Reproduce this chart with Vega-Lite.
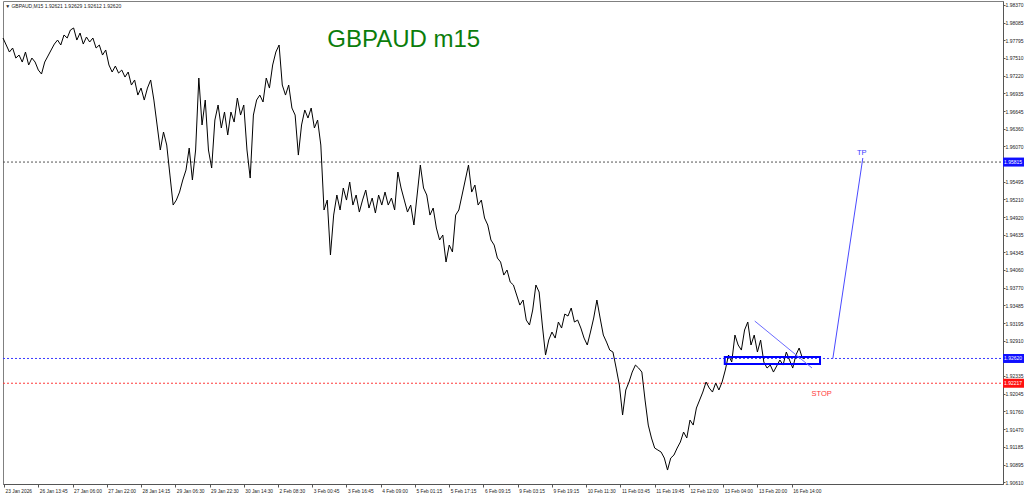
{
  "$schema": "https://vega.github.io/schema/vega-lite/v6.json",
  "width": 1000,
  "height": 483,
  "autosize": {"type": "none"},
  "padding": {"left": 3, "top": 1, "right": 21, "bottom": 13},
  "background": "white",
  "config": {"view": {"stroke": "#808080", "strokeWidth": 1}, "font": "Liberation Sans"},
  "resolve": {"scale": {"color": "independent"}},
  "datasets": {
    "price": [
      {"b":0,"p":1.97833},{"b":6,"p":1.97719},{"b":12,"p":1.97605},{"b":18,"p":1.97670},{"b":24,"p":1.97507},{"b":30,"p":1.97556},{"b":36,"p":1.97442},{"b":42,"p":1.97605},{"b":48,"p":1.97394},{"b":54,"p":1.97507},
      {"b":60,"p":1.97442},{"b":66,"p":1.97312},{"b":72,"p":1.97247},{"b":78,"p":1.97442},{"b":84,"p":1.97540},{"b":90,"p":1.97638},{"b":96,"p":1.97735},{"b":102,"p":1.97800},{"b":108,"p":1.97719},{"b":114,"p":1.97882},
      {"b":120,"p":1.97833},{"b":126,"p":1.97963},{"b":132,"p":1.97996},{"b":138,"p":1.97800},{"b":144,"p":1.97914},{"b":150,"p":1.97735},{"b":156,"p":1.97849},{"b":162,"p":1.97768},{"b":168,"p":1.97833},{"b":174,"p":1.97670},
      {"b":180,"p":1.97719},{"b":186,"p":1.97556},{"b":192,"p":1.97638},{"b":198,"p":1.97394},{"b":204,"p":1.97280},{"b":210,"p":1.97377},{"b":216,"p":1.97263},{"b":222,"p":1.97312},{"b":228,"p":1.97198},{"b":234,"p":1.97280},
      {"b":240,"p":1.97068},{"b":246,"p":1.97150},{"b":252,"p":1.96905},{"b":258,"p":1.97019},{"b":264,"p":1.96824},{"b":270,"p":1.97019},{"b":276,"p":1.97150},{"b":282,"p":1.96824},{"b":288,"p":1.96418},{"b":294,"p":1.96011},
      {"b":300,"p":1.96304},{"b":306,"p":1.96092},{"b":312,"p":1.95604},{"b":318,"p":1.95116},{"b":324,"p":1.95197},{"b":330,"p":1.95327},{"b":336,"p":1.95523},{"b":342,"p":1.95685},{"b":348,"p":1.96043},{"b":354,"p":1.95523},
      {"b":360,"p":1.96011},{"b":366,"p":1.97182},{"b":372,"p":1.96418},{"b":378,"p":1.96824},{"b":384,"p":1.96011},{"b":390,"p":1.95718},{"b":396,"p":1.96499},{"b":402,"p":1.96743},{"b":408,"p":1.96369},{"b":414,"p":1.96629},
      {"b":420,"p":1.96255},{"b":426,"p":1.96629},{"b":432,"p":1.96466},{"b":438,"p":1.96857},{"b":444,"p":1.96580},{"b":450,"p":1.96743},{"b":456,"p":1.96011},{"b":462,"p":1.95555},{"b":468,"p":1.96580},{"b":474,"p":1.96824},
      {"b":480,"p":1.96905},{"b":486,"p":1.96792},{"b":492,"p":1.97182},{"b":498,"p":1.97019},{"b":504,"p":1.97394},{"b":510,"p":1.97605},{"b":516,"p":1.97719},{"b":522,"p":1.97068},{"b":528,"p":1.96905},{"b":534,"p":1.97068},
      {"b":540,"p":1.96694},{"b":546,"p":1.96580},{"b":552,"p":1.95929},{"b":558,"p":1.96418},{"b":564,"p":1.96662},{"b":570,"p":1.96531},{"b":576,"p":1.96694},{"b":582,"p":1.96369},{"b":588,"p":1.96499},{"b":594,"p":1.96092},
      {"b":600,"p":1.95035},{"b":606,"p":1.95197},{"b":612,"p":1.94303},{"b":618,"p":1.94953},{"b":624,"p":1.95279},{"b":630,"p":1.95035},{"b":636,"p":1.95393},{"b":642,"p":1.95197},{"b":648,"p":1.95490},{"b":654,"p":1.95116},
      {"b":660,"p":1.95279},{"b":666,"p":1.95002},{"b":672,"p":1.95197},{"b":678,"p":1.95360},{"b":684,"p":1.95067},{"b":690,"p":1.95230},{"b":696,"p":1.94986},{"b":702,"p":1.95279},{"b":708,"p":1.95116},{"b":714,"p":1.95327},
      {"b":720,"p":1.95116},{"b":726,"p":1.95230},{"b":732,"p":1.95035},{"b":738,"p":1.95653},{"b":744,"p":1.95393},{"b":750,"p":1.95197},{"b":756,"p":1.95002},{"b":762,"p":1.95116},{"b":768,"p":1.94791},{"b":774,"p":1.95279},
      {"b":780,"p":1.95767},{"b":786,"p":1.95393},{"b":792,"p":1.95279},{"b":798,"p":1.94953},{"b":804,"p":1.95067},{"b":810,"p":1.94742},{"b":816,"p":1.94547},{"b":822,"p":1.94628},{"b":828,"p":1.94189},{"b":834,"p":1.94465},
      {"b":840,"p":1.94352},{"b":846,"p":1.94953},{"b":852,"p":1.95035},{"b":858,"p":1.95279},{"b":864,"p":1.95523},{"b":870,"p":1.95767},{"b":876,"p":1.95327},{"b":882,"p":1.95441},{"b":888,"p":1.95116},{"b":894,"p":1.95197},
      {"b":900,"p":1.94905},{"b":906,"p":1.94791},{"b":912,"p":1.94547},{"b":918,"p":1.94465},{"b":924,"p":1.94254},{"b":930,"p":1.94189},{"b":936,"p":1.93977},{"b":942,"p":1.94059},{"b":948,"p":1.93863},{"b":954,"p":1.93815},
      {"b":960,"p":1.93652},{"b":966,"p":1.93489},{"b":972,"p":1.93571},{"b":978,"p":1.93245},{"b":984,"p":1.93164},{"b":990,"p":1.93408},{"b":996,"p":1.93815},{"b":1002,"p":1.93701},{"b":1008,"p":1.93164},{"b":1014,"p":1.92676},
      {"b":1020,"p":1.92920},{"b":1026,"p":1.93050},{"b":1032,"p":1.92952},{"b":1038,"p":1.93213},{"b":1044,"p":1.93115},{"b":1050,"p":1.93343},{"b":1056,"p":1.93310},{"b":1062,"p":1.93441},{"b":1068,"p":1.93213},{"b":1074,"p":1.93245},
      {"b":1080,"p":1.93115},{"b":1086,"p":1.92952},{"b":1092,"p":1.92839},{"b":1098,"p":1.93050},{"b":1104,"p":1.93278},{"b":1110,"p":1.93571},{"b":1116,"p":1.93278},{"b":1122,"p":1.93001},{"b":1128,"p":1.92887},{"b":1134,"p":1.92757},
      {"b":1140,"p":1.92725},{"b":1146,"p":1.92464},{"b":1152,"p":1.92188},{"b":1158,"p":1.91700},{"b":1164,"p":1.92107},{"b":1170,"p":1.92237},{"b":1176,"p":1.92399},{"b":1182,"p":1.92513},{"b":1188,"p":1.92464},{"b":1194,"p":1.92399},
      {"b":1200,"p":1.91944},{"b":1206,"p":1.91537},{"b":1212,"p":1.91326},{"b":1218,"p":1.91163},{"b":1224,"p":1.91130},{"b":1230,"p":1.91098},{"b":1236,"p":1.91000},{"b":1242,"p":1.90805},{"b":1248,"p":1.91000},{"b":1254,"p":1.91049},
      {"b":1260,"p":1.91163},{"b":1266,"p":1.91261},{"b":1272,"p":1.91423},{"b":1278,"p":1.91326},{"b":1284,"p":1.91618},{"b":1290,"p":1.91537},{"b":1296,"p":1.91814},{"b":1302,"p":1.91944},{"b":1308,"p":1.92074},{"b":1314,"p":1.92237},
      {"b":1320,"p":1.92139},{"b":1326,"p":1.92074},{"b":1332,"p":1.92220},{"b":1338,"p":1.92107},{"b":1344,"p":1.92237},{"b":1350,"p":1.92432},{"b":1356,"p":1.92676},{"b":1362,"p":1.92562},{"b":1368,"p":1.93001},{"b":1374,"p":1.92839},
      {"b":1380,"p":1.92757},{"b":1386,"p":1.93083},{"b":1392,"p":1.93213},{"b":1398,"p":1.92839},{"b":1404,"p":1.93001},{"b":1410,"p":1.92725},{"b":1416,"p":1.92920},{"b":1422,"p":1.92562},{"b":1428,"p":1.92464},{"b":1434,"p":1.92513},
      {"b":1440,"p":1.92399},{"b":1446,"p":1.92497},{"b":1452,"p":1.92595},{"b":1458,"p":1.92513},{"b":1464,"p":1.92725},{"b":1470,"p":1.92595},{"b":1476,"p":1.92464},{"b":1482,"p":1.92676},{"b":1488,"p":1.92790},{"b":1494,"p":1.92627},
      {"b":1498,"p":1.92620}
    ],
    "levels": [
      {"b":0,"b2":1869,"p":1.95815,"lvl":"TP"},
      {"b":0,"b2":1869,"p":1.92620,"lvl":"Entry"},
      {"b":0,"b2":1869,"p":1.92217,"lvl":"Stop"}
    ],
    "tags": [
      {"b":1869,"b2":1912,"bt":1871,"p":1.95815,"tag":"TP","label":"1.95815"},
      {"b":1869,"b2":1912,"bt":1871,"p":1.92620,"tag":"Entry","label":"1.92620"},
      {"b":1869,"b2":1912,"bt":1871,"p":1.92217,"tag":"Stop","label":"1.92217"}
    ],
    "box": [{"b":1349,"b2":1527,"p":1.92643,"p2":1.92530}],
    "trend": [{"b":1405,"b2":1512,"p":1.93229,"p2":1.92465}],
    "tpline": [{"b":1551,"b2":1607,"p":1.92620,"p2":1.95881}],
    "notes": [
      {"b":1605,"p":1.95962,"label":"TP","note":"TP"},
      {"b":1530,"p":1.92041,"label":"STOP","note":"Stop"}
    ],
    "title": [{"b":749,"p":1.97800,"label":"GBPAUD m15"}],
    "header": [{"b":4,"p":1.98353,"label":"▼ GBPAUD,M15  1.92621 1.92629 1.92612 1.92620"}]
  },
  "encoding": {
    "x": {
      "field": "b", "type": "quantitative",
      "scale": {"domain": [0, 1869], "nice": false, "zero": false},
      "axis": {
        "title": null, "grid": false,
        "values": [2,66,130,194,258,322,386,450,514,578,642,706,770,834,898,962,1026,1090,1154,1218,1282,1346,1410,1474],
        "labelExpr": "['23 Jan 2026','26 Jan 13:45','27 Jan 06:00','27 Jan 22:00','28 Jan 14:15','29 Jan 06:30','29 Jan 22:30','30 Jan 14:30','2 Feb 08:30','3 Feb 00:45','3 Feb 16:45','4 Feb 09:00','5 Feb 01:15','5 Feb 17:15','6 Feb 09:15','9 Feb 03:15','9 Feb 19:15','10 Feb 11:30','11 Feb 03:45','11 Feb 19:45','12 Feb 12:00','13 Feb 04:00','13 Feb 20:00','16 Feb 14:00'][round((datum.value-2)/64)]",
        "labelAlign": "left", "labelOffset": 1, "labelPadding": 1, "labelFontSize": 4.8, "labelColor": "#222222",
        "labelOverlap": false, "labelFlush": false, "labelBound": false,
        "tickSize": 3, "tickColor": "#555555", "domainColor": "#555555"
      }
    },
    "y": {
      "field": "p", "type": "quantitative",
      "scale": {"domain": [1.90578, 1.98435], "nice": false, "zero": false},
      "axis": {
        "orient": "right", "title": null, "grid": false, "format": ".5f",
        "values": [1.98370,1.98085,1.97795,1.97510,1.97220,1.96935,1.96645,1.96360,1.96070,1.95495,1.95210,1.94920,1.94635,1.94345,1.94060,1.93770,1.93485,1.93195,1.92910,1.92335,1.92045,1.91760,1.91470,1.91185,1.90895,1.90610],
        "labelFontSize": 5, "labelPadding": 0, "labelColor": "#222222", "labelOverlap": false, "labelFlush": false, "labelBound": false,
        "tickSize": 2, "tickColor": "#555555", "domainColor": "#555555"
      }
    }
  },
  "layer": [
    {
      "data": {"name": "levels"},
      "mark": {"type": "rule", "strokeDash": [2, 2], "strokeWidth": 1},
      "encoding": {
        "x2": {"field": "b2"},
        "color": {"field": "lvl", "type": "nominal", "legend": null,
          "scale": {"domain": ["TP", "Entry", "Stop"], "range": ["#555555", "#3a3aff", "#ff3a3a"]}}
      }
    },
    {
      "data": {"name": "price"},
      "mark": {"type": "line", "color": "#000000", "strokeWidth": 1}
    },
    {
      "data": {"name": "box"},
      "mark": {"type": "rect", "fill": null, "fillOpacity": 0, "stroke": "#0000ff", "strokeWidth": 2},
      "encoding": {"x2": {"field": "b2"}, "y2": {"field": "p2"}}
    },
    {
      "data": {"name": "trend"},
      "mark": {"type": "rule", "color": "#6b6bff", "strokeWidth": 1},
      "encoding": {"x2": {"field": "b2"}, "y2": {"field": "p2"}}
    },
    {
      "data": {"name": "tpline"},
      "mark": {"type": "rule", "color": "#4a4aff", "strokeWidth": 1},
      "encoding": {"x2": {"field": "b2"}, "y2": {"field": "p2"}}
    },
    {
      "data": {"name": "notes"},
      "mark": {"type": "text", "fontSize": 7.5, "font": "Liberation Sans", "align": "center", "baseline": "middle"},
      "encoding": {
        "text": {"field": "label"},
        "color": {"field": "note", "type": "nominal", "legend": null,
          "scale": {"domain": ["TP", "Stop"], "range": ["#3a3aff", "#ff3a3a"]}}
      }
    },
    {
      "data": {"name": "title"},
      "mark": {"type": "text", "fontSize": 24, "font": "Liberation Sans", "color": "#0b7d0b", "align": "center", "baseline": "middle"},
      "encoding": {"text": {"field": "label"}}
    },
    {
      "data": {"name": "header"},
      "mark": {"type": "text", "fontSize": 5, "font": "Liberation Sans", "color": "#222222", "align": "left", "baseline": "middle"},
      "encoding": {"text": {"field": "label"}}
    },
    {
      "data": {"name": "tags"},
      "mark": {"type": "rule", "strokeWidth": 9, "strokeCap": "butt", "clip": false},
      "encoding": {
        "x2": {"field": "b2"},
        "color": {"field": "tag", "type": "nominal", "legend": null,
          "scale": {"domain": ["TP", "Entry", "Stop"], "range": ["#1010ff", "#1010ff", "#ff1010"]}}
      }
    },
    {
      "data": {"name": "tags"},
      "mark": {"type": "text", "fontSize": 5, "font": "Liberation Sans", "color": "#ffffff", "align": "left", "baseline": "middle", "clip": false},
      "encoding": {"x": {"field": "bt", "type": "quantitative"}, "text": {"field": "label"}}
    }
  ]
}
